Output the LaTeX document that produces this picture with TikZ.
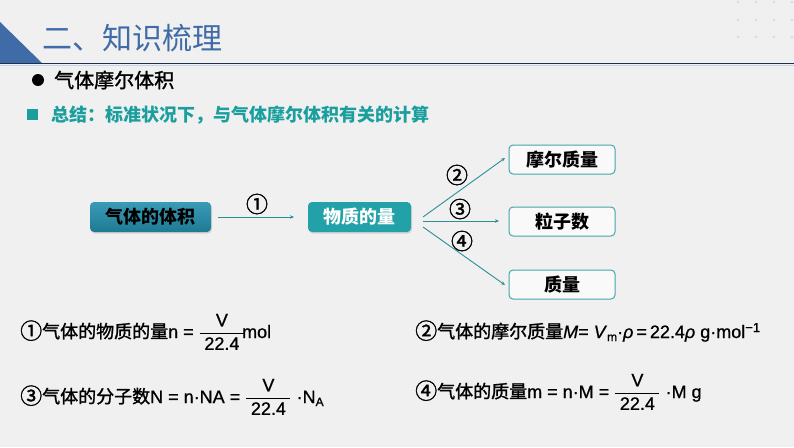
\documentclass[tikz,border=0pt]{standalone}
\usepackage{fontspec}
\usepackage{amsmath}
\usetikzlibrary{shadows,arrows.meta}
\newfontfamily\cjk{Noto Sans CJK SC}
\newfontfamily\cjkm{Noto Sans CJK SC}[FakeBold=1.4]
\newfontfamily\ar{Liberation Sans}
\newfontfamily\arm{Liberation Sans}[FakeBold=0.8]
\definecolor{bg}{HTML}{F0F0F0}
\definecolor{titleblue}{HTML}{3F6BA6}
\definecolor{teal}{HTML}{1A9E9E}
\definecolor{arrowteal}{HTML}{2A9096}
\definecolor{boxline}{HTML}{45A6AA}
\definecolor{boxa}{HTML}{3A9BB8}
\definecolor{boxb}{HTML}{1E7A92}
\definecolor{boxc}{HTML}{22A2A8}
\definecolor{dotc}{HTML}{D6DADF}
\newcommand{\frc}[2]{\genfrac{}{}{0.7pt}{0}{\text{#1}}{\hbox to 44pt{\hfil#2\hfil}}}
\newcommand{\cn}[1]{{\cjkm\fontsize{22}{22}\selectfont\raisebox{-1pt}{#1}}}
\tikzset{
  mainbox/.style={rounded corners=4pt, minimum width=121pt, minimum height=30pt, inner sep=0pt,
    font=\cjk\fontsize{18}{18}\selectfont\bfseries},
  outbox/.style={rounded corners=4pt, draw=boxline, line width=1pt, fill=white!60!bg,
    minimum width=106pt, minimum height=29pt, inner sep=0pt, font=\cjk\fontsize{18}{18}\selectfont\bfseries},
  flow/.style={draw=arrowteal, line width=0.9pt, -{Stealth[length=4pt,width=3.5pt]}},
  circ/.style={font=\cjkm\fontsize{22}{22}\selectfont, inner sep=0pt},
  formula/.style={anchor=base west, inner sep=0pt, font=\arm\fontsize{18}{18}\selectfont},
}
\begin{document}
\begin{tikzpicture}[x=1pt,y=-1pt]
\fill[bg] (0,0) rectangle (794,447);
\useasboundingbox (0,0) rectangle (794,447);
% header
\fill[titleblue] (0,22) -- (42,63) -- (0,63) -- cycle;
\draw[color=black!55!titleblue, line width=1.2pt] (0,63.5) -- (794,63.5);
\draw[color=titleblue!30, line width=1pt] (0,65.3) -- (794,65.3);
\foreach \xx in {738,756,774,792}{\foreach \yy in {2,20,37}{\fill[dotc] (\xx,\yy) circle (1.3);}}
\node[anchor=west, inner sep=0pt, text=titleblue, font=\cjk\fontsize{30}{30}\selectfont] (title) at (42,38) {二、知识梳理};
\fill[black] (38,80) circle (6);
\node[anchor=west, inner sep=0pt, font=\cjkm\fontsize{20}{20}\selectfont] (h1) at (54,80) {气体摩尔体积};
\fill[teal] (27,109) rectangle (38,120);
\node[anchor=west, inner sep=0pt, text=teal, font=\cjk\fontsize{18}{18}\selectfont\bfseries] (h2) at (51,115) {总结：标准状况下，与气体摩尔体积有关的计算};
% diagram
\node[mainbox, top color=boxa, bottom color=boxb, drop shadow={opacity=0.25,shadow xshift=1pt,shadow yshift=-1.5pt}, text=black] (vol) at (150.5,217) {气体的体积};
\node[mainbox, minimum width=103pt, fill=boxc, drop shadow={opacity=0.25,shadow xshift=1pt,shadow yshift=-1.5pt}, text=white] (amt) at (359.5,217) {物质的量};
\node[outbox] (mm) at (562,159.5) {摩尔质量};
\node[outbox] (np) at (562,221.5) {粒子数};
\node[outbox] (ms) at (562,284.5) {质量};
\coordinate (a1s) at (218,217);
\coordinate (a1e) at (294,217);
\draw[flow] (a1s) -- (a1e);
\node[circ] (c1) at (257,204) {①};
\coordinate (o2) at (423,217);
\coordinate (o3) at (423,221);
\coordinate (o4) at (423,227);
\coordinate (e2) at (505,158);
\coordinate (e3) at (499,221);
\coordinate (e4) at (505,285);
\draw[flow] (o2) -- (e2);
\draw[flow] (o3) -- (e3);
\draw[flow] (o4) -- (e4);
\node[circ] (c2) at (457,175) {②};
\node[circ] (c3) at (460,209) {③};
\node[circ] (c4) at (462,241) {④};
% formulas
\node[formula] (f1) at (20,338) {\cn{①}{\cjkm 气体的物质的量}n = $\frc{V}{22.4}$\hspace{-3pt}mol};
\node[formula] (f3) at (20,403) {\cn{③}{\cjkm 气体的分子数}N = n·NA = $\frc{V}{22.4}$ ·N\raisebox{-3pt}{\fontsize{12}{12}\selectfont A}};
\node[formula] (f2) at (415,338) {\cn{②}{\cjkm 气体的摩尔质量}\textit{M}= \textit{V}\raisebox{-3pt}{\fontsize{12}{12}\selectfont m}·\textit{ρ}\,=\,22.4\textit{ρ} g·mol\raisebox{6pt}{\fontsize{13}{13}\selectfont −1}};
\node[formula] (f4) at (415,398) {\cn{④}{\cjkm 气体的质量}m = n·M = $\frc{V}{22.4}$ ·M g};
\end{tikzpicture}
\end{document}
